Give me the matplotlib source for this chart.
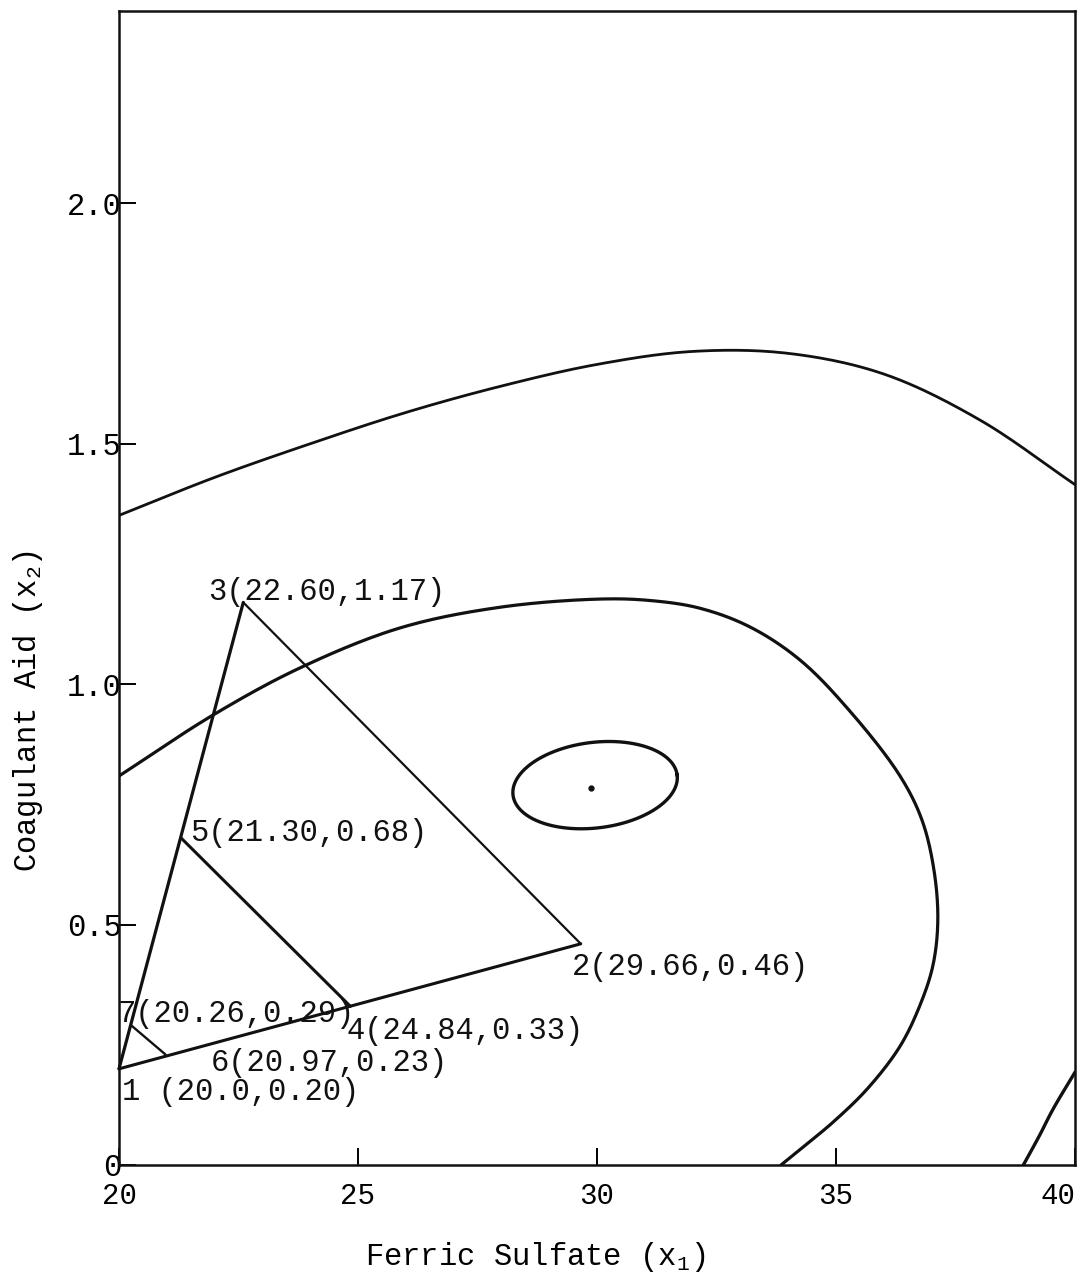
import numpy as np
import matplotlib
matplotlib.use('Agg')
import matplotlib.pyplot as plt

plt.rcParams['font.family'] = ['Liberation Mono', 'DejaVu Sans Mono']
plt.rcParams['mathtext.default'] = 'regular'

# ---- data ----
point_ids = ['1', '2', '3', '4', '5', '6', '7']
point_x = [20.0, 29.66, 22.60, 24.84, 21.30, 20.97, 20.26]
point_y = [0.20, 0.46, 1.17, 0.33, 0.68, 0.23, 0.29]
point_labels = ['1 (20.0,0.20)', '2(29.66,0.46)', '3(22.60,1.17)',
                '4(24.84,0.33)', '5(21.30,0.68)', '6(20.97,0.23)',
                '7(20.26,0.29)']
# simplex moves (pairs of point indices)
segments = [(0, 1), (1, 2), (2, 0), (4, 3), (6, 5)]

# innermost contour: small ellipse around the optimum
inner_center_x = 29.96
inner_center_y = 0.790
inner_halfwidth_x = 1.73      # along its long axis, in x units
inner_halfheight_y = 0.089    # along its short axis, in y units
inner_tilt_deg = 7.0

# other response contours
mid_x = [20.0, 21.97, 23.79, 25.88, 27.97, 30.06, 31.11, 32.15, 33.20, 34.25,
         35.29, 36.34, 36.80, 37.05, 37.13, 37.03, 36.76, 36.34, 35.67, 34.96,
         34.37, 33.85]
mid_y = [0.809, 0.936, 1.034, 1.117, 1.160, 1.177, 1.174, 1.158, 1.119, 1.050,
         0.944, 0.809, 0.717, 0.613, 0.509, 0.416, 0.333, 0.247, 0.160, 0.091,
         0.042, 0.0]

outer_x = [20.0, 22.0, 24.0, 26.0, 28.0, 30.0, 32.0, 34.0, 36.0, 38.0, 40.0]
outer_y = [1.351, 1.43, 1.50, 1.565, 1.62, 1.665, 1.692, 1.688, 1.645, 1.55, 1.415]

corner_x = [38.92, 39.25, 39.54, 40.0]
corner_y = [0.0, 0.06, 0.116, 0.193]

optimum_x = [29.87]
optimum_y = [0.784]

x_ticks = [20, 25, 30, 35, 40]
x_ticklabels = ['20', '25', '30', '35', '40']
y_ticks = [0, 0.5, 1.0, 1.5, 2.0]
y_ticklabels = ['0', '0.5', '1.0', '1.5', '2.0']

# label offsets in pixels (layout)
label_offsets = [(3, -23), (-9, -23), (-35, 10), (-4, -25), (9, 5), (45, -9), (-14, 12)]


def centripetal(P, n=24):
    """Centripetal Catmull-Rom through the points P (display space)."""
    E = np.vstack([2 * P[0] - P[1], P, 2 * P[-1] - P[-2]])
    out = []
    for i in range(1, len(E) - 2):
        p0, p1, p2, p3 = E[i - 1:i + 3]
        t0 = 0.0
        t1 = t0 + np.linalg.norm(p1 - p0) ** 0.5
        t2 = t1 + np.linalg.norm(p2 - p1) ** 0.5
        t3 = t2 + np.linalg.norm(p3 - p2) ** 0.5
        t = np.linspace(t1, t2, n, endpoint=False)[:, None]
        A1 = (t1 - t) / (t1 - t0) * p0 + (t - t0) / (t1 - t0) * p1
        A2 = (t2 - t) / (t2 - t1) * p1 + (t - t1) / (t2 - t1) * p2
        A3 = (t3 - t) / (t3 - t2) * p2 + (t - t2) / (t3 - t2) * p3
        B1 = (t2 - t) / (t2 - t0) * A1 + (t - t0) / (t2 - t0) * A2
        B2 = (t3 - t) / (t3 - t1) * A2 + (t - t1) / (t3 - t1) * A3
        out.append((t2 - t) / (t2 - t1) * B1 + (t - t1) / (t2 - t1) * B2)
    out.append(P[-1][None])
    return np.vstack(out)


fig = plt.figure(figsize=(10.86, 12.79), dpi=100)
ax = fig.add_axes([119 / 1086, 1 - 1165 / 1279, 956 / 1086, 1154 / 1279])
ax.set_xlim(20, 40)
ax.set_ylim(0, 2.4)
tr = ax.transData

lc = '#111111'

# tilted ellipse drawn in display space so the tilt is not distorted
c_disp = tr.transform((inner_center_x, inner_center_y))
a_disp = tr.transform((inner_center_x + inner_halfwidth_x, inner_center_y))[0] - c_disp[0]
b_disp = tr.transform((inner_center_x, inner_center_y + inner_halfheight_y))[1] - c_disp[1]
th = np.linspace(0, 2 * np.pi, 200)
ang = np.deg2rad(inner_tilt_deg)
ex = a_disp * np.cos(th)
ey = b_disp * np.sin(th)
disp = np.column_stack([c_disp[0] + ex * np.cos(ang) - ey * np.sin(ang),
                        c_disp[1] + ex * np.sin(ang) + ey * np.cos(ang)])
ell = tr.inverted().transform(disp)
ax.plot(ell[:, 0], ell[:, 1], color=lc, lw=2.4)

for xs, ys, lw in [(mid_x, mid_y, 2.3), (outer_x, outer_y, 2.0), (corner_x, corner_y, 2.4)]:
    P = tr.transform(np.column_stack([xs, ys]))
    S = tr.inverted().transform(centripetal(P))
    ax.plot(S[:, 0], S[:, 1], color=lc, lw=lw, solid_capstyle='round')

ax.plot(optimum_x, optimum_y, 'o', color=lc, ms=3.5)

seg_lw = [2.2, 1.6, 2.3, 2.2, 1.7]
for (a, b), lw in zip(segments, seg_lw):
    ax.plot([point_x[a], point_x[b]], [point_y[a], point_y[b]], color=lc, lw=lw,
            solid_capstyle='round', clip_on=False)

for i, lab in enumerate(point_labels):
    ax.annotate(lab, (point_x[i], point_y[i]), xytext=label_offsets[i],
                textcoords='offset pixels', ha='left', va='center',
                fontsize=22, color=lc)

ax.set_xticks(x_ticks)
ax.set_xticklabels(x_ticklabels, fontsize=21)
ax.get_xticklabels()[-1].set_horizontalalignment('right')
ax.set_yticks(y_ticks)
ax.set_yticklabels(y_ticklabels, fontsize=22)
ax.tick_params(axis='x', direction='in', length=12, width=1.4, pad=12, top=False)
ax.tick_params(axis='y', direction='in', length=12, width=1.4, pad=-2, right=False)
for s in ax.spines.values():
    s.set_linewidth(1.8)
    s.set_color(lc)

ax.set_xlabel('Ferric Sulfate (x$_{1}$)', fontsize=22)
ax.xaxis.set_label_coords(0.435, -0.065)
ax.set_ylabel('Coagulant Aid (x$_{2}$)', fontsize=22)
ax.yaxis.set_label_coords(-0.077, 0.393)

fig.savefig('out.png', dpi=100)
